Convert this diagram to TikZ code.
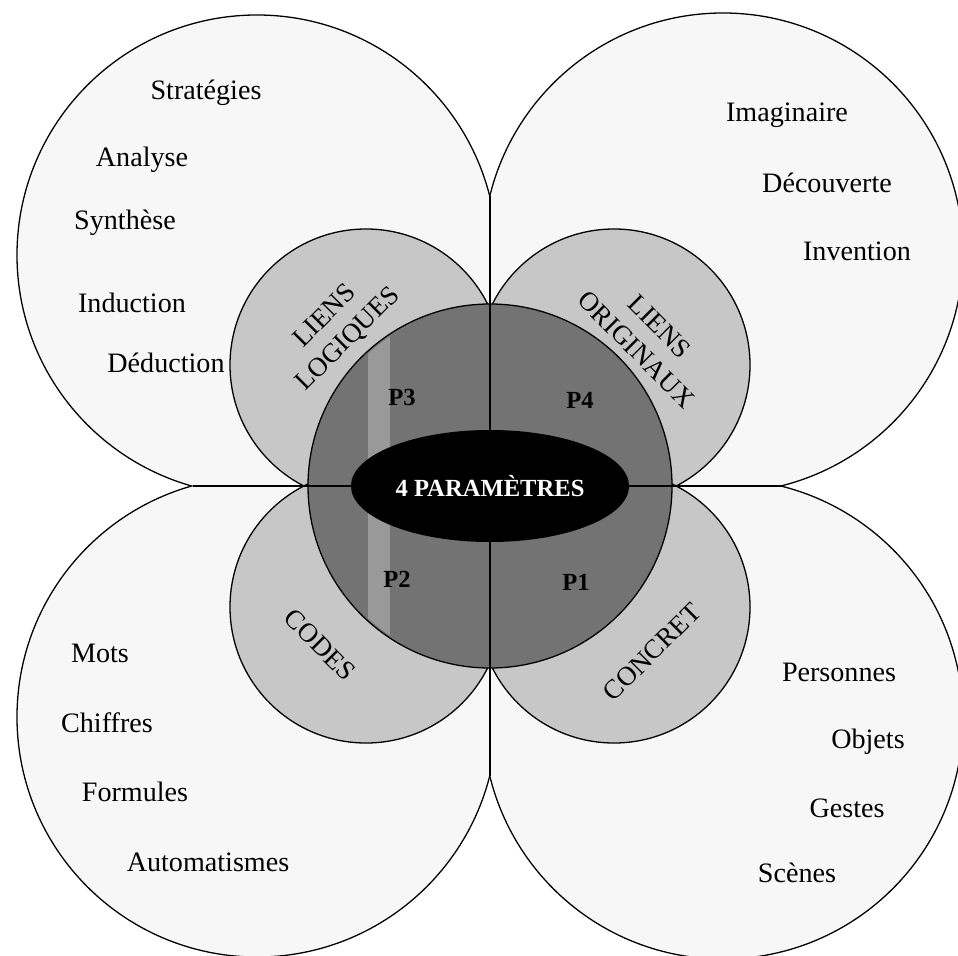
\documentclass[tikz,border=0pt]{standalone}
\usepackage{fontspec}
\setmainfont{Liberation Serif}
\usepackage{tikz}
\usetikzlibrary{shapes.geometric,positioning}

\begin{document}
\begin{tikzpicture}[
    x=0.03cm, y=-0.03cm,
    petal/.style={draw, line width=1.1pt, fill=black!3},
    ring/.style={draw, line width=1.1pt, fill=black!22},
    core/.style={draw, line width=1.1pt, fill=black!55},
    cross/.style={draw, line width=1.1pt},
    item/.style={font=\fontsize{24}{28}\selectfont, inner sep=1pt},
    theme/.style={font=\fontsize{23}{28}\selectfont, align=center, inner sep=0pt},
    param/.style={font=\bfseries\fontsize{21}{25}\selectfont, inner sep=1pt}
]
\useasboundingbox (0,0) rectangle (958,955);

\coordinate (O) at (490,486);
\coordinate (L) at (193,486);
\coordinate (T) at (490,196);
\coordinate (R) at (782,486);
\coordinate (B) at (490,776);

\begin{scope}
    \clip (0,0) rectangle (O);
    \draw[petal] (257,255) circle[radius=7.2cm];
\end{scope}
\begin{scope}
    \clip (490,0) rectangle (958,486);
    \draw[petal] (723,253) circle[radius=7.2cm];
\end{scope}
\begin{scope}
    \clip (0,486) rectangle (490,955);
    \draw[petal] (257,717) circle[radius=7.2cm];
\end{scope}
\begin{scope}
    \clip (O) rectangle (958,955);
    \draw[petal] (723,719) circle[radius=7.2cm];
\end{scope}

\draw[ring] (366,365) circle[radius=4.08cm];
\draw[ring] (614,365) circle[radius=4.08cm];
\draw[ring] (366,607) circle[radius=4.08cm];
\draw[ring] (614,607) circle[radius=4.08cm];

\draw[core] (O) circle[radius=5.46cm];
\begin{scope}
    \clip (O) circle[radius=5.4cm];
    \fill[black!40] (368,0) rectangle (390,955);
\end{scope}

\draw[cross] (L) -- (R);
\draw[cross] (T) -- (B);

\node[ellipse, fill=black, minimum width=8.1cm, minimum height=3.36cm, text=white,
      font=\bfseries\fontsize{21}{25}\selectfont] (title) at (O) {4 PARAMÈTRES};

\node[param] (p1) at (576,582) {P1};
\node[param] (p2) at (397,579) {P2};
\node[param] (p3) at (402,397) {P3};
\node[param] (p4) at (580,400) {P4};

\node[theme, rotate=45] (logiques) at (337,328) {LIENS\\LOGIQUES};
\node[theme, rotate=-45] (originaux) at (648,338) {LIENS\\ORIGINAUX};
\node[theme, rotate=-45] (codes) at (320,645) {CODES};
\node[theme, rotate=45] (concret) at (652,652) {CONCRET};

\node[item] (strategies) at (206,93) {Stratégies};
\node[item] (analyse) at (142,160) {Analyse};
\node[item] (synthese) at (125,223) {Synthèse};
\node[item] (induction) at (132,303) {Induction};
\node[item] (deduction) at (166,363) {Déduction};

\node[item] (imaginaire) at (787,115) {Imaginaire};
\node[item] (decouverte) at (827,183) {Découverte};
\node[item] (invention) at (857,251) {Invention};

\node[item] (mots) at (100,653) {Mots};
\node[item] (chiffres) at (107,723) {Chiffres};
\node[item] (formules) at (135,792) {Formules};
\node[item] (automatismes) at (208,862) {Automatismes};

\node[item] (personnes) at (839,672) {Personnes};
\node[item] (objets) at (868,742) {Objets};
\node[item] (gestes) at (847,808) {Gestes};
\node[item] (scenes) at (797,873) {Scènes};

\end{tikzpicture}
\end{document}
